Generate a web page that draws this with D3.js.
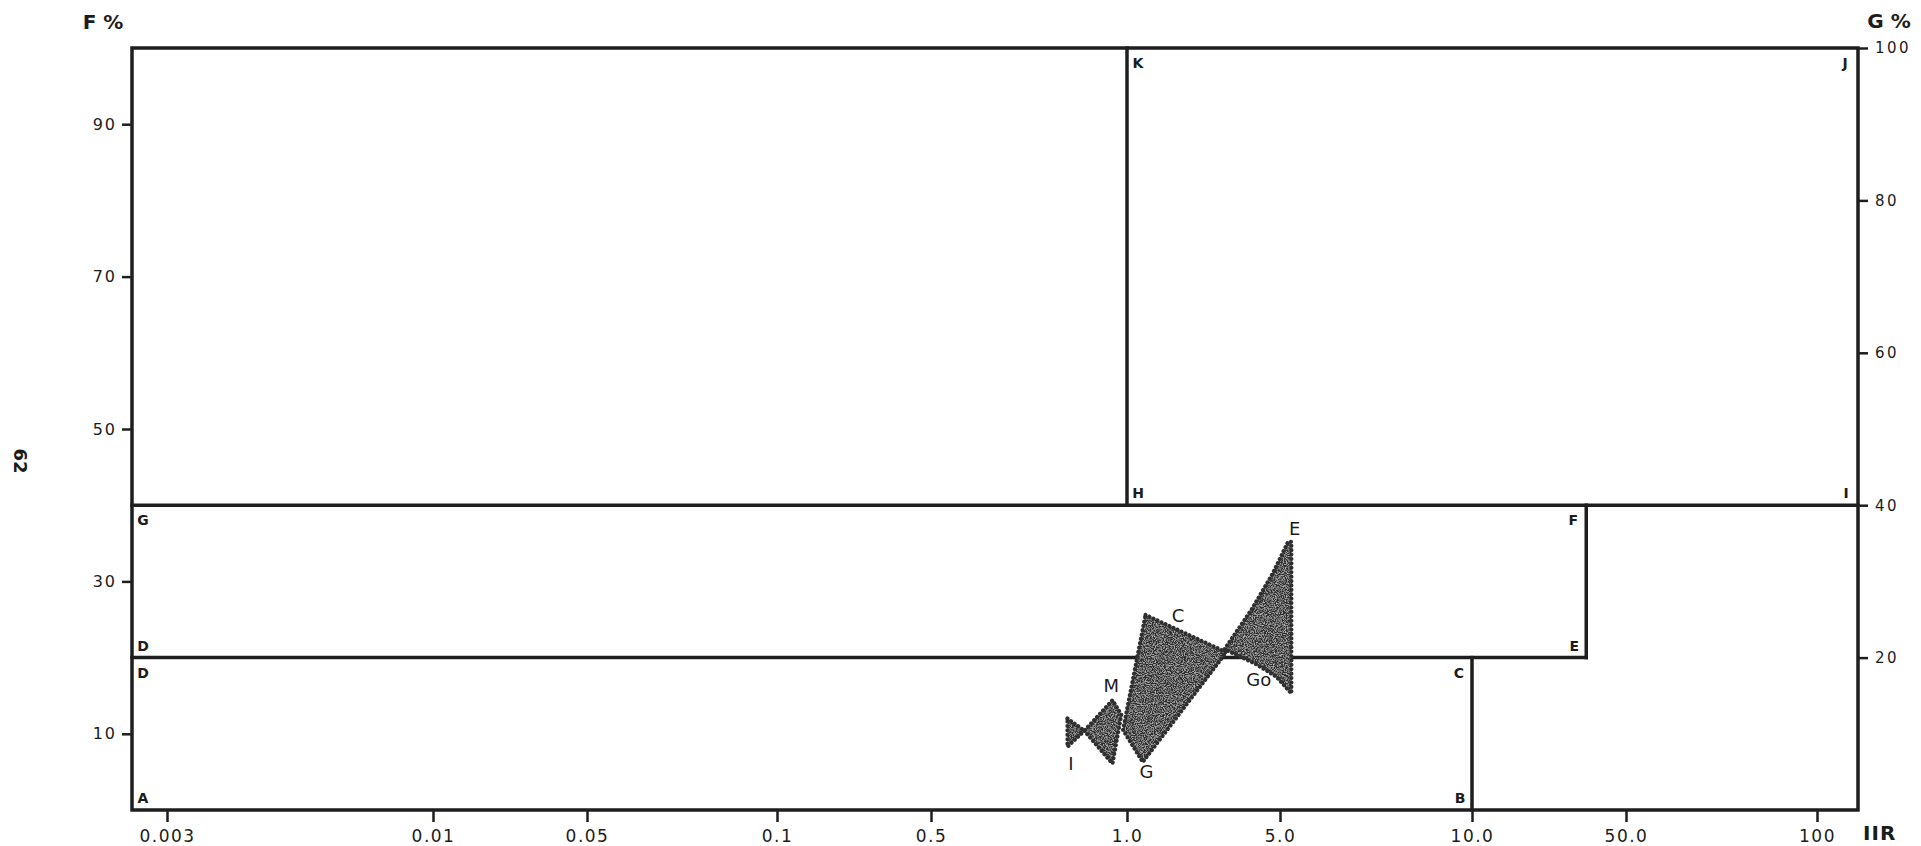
<!DOCTYPE html>
<html>
<head>
<meta charset="utf-8">
<script src="https://cdn.jsdelivr.net/npm/d3@7"></script>
<style>
  html, body { margin: 0; padding: 0; background: #fff; }
  svg { display: block; }
  text { font-family: "DejaVu Sans", "Noto Sans", sans-serif; fill: #1c1c1c; }
</style>
</head>
<body>
<svg id="chart" width="1921" height="846"></svg>
<script>
// ---- Abscissa (IIR): ruled values and their printed labels
const xTickValues = [0.003, 0.01, 0.05, 0.1, 0.5, 1, 5, 10, 50, 100];
const xTickLabels = ["0.003", "0.01", "0.05", "0.1", "0.5", "1.0", "5.0", "10.0", "50.0", "100"];

// ---- Ordinates: F % on the left, G % on the right
const fTickValues = [10, 30, 50, 70, 90];
const gTickValues = [20, 40, 60, 80, 100];

// ---- Field boundaries (null = frame edge)
const hBoundF     = [40, 20];
const hBoundXFrom = [null, null];
const hBoundXTo   = [null, 33];
const vBoundX     = [1, 33, 10];
const vBoundFFrom = [40, 20, 0];
const vBoundFTo   = [100, 40, 20];

// ---- Field corner letters: corner (x, F) and the side of the corner they sit on
const fieldLetters = ["K", "J", "H", "I", "G", "F", "E", "D", "D", "A", "C", "B"];
const fieldX       = [1, null, 1, null, null, 33, 33, null, null, null, 10, 10];
const fieldEdge    = ["", "right", "", "right", "left", "", "", "left", "left", "left", "", ""];
const fieldF       = [100, 100, 40, 40, 40, 40, 20, 20, 20, 0, 20, 0];
const fieldSide    = ["br", "bl", "tr", "tl", "br", "bl", "tl", "tr", "br", "tr", "bl", "tl"];

// ---- Rock ranges (IIR, F %)
const rangeIM  = [[0.81, 12.0], [0.86, 10.4], [0.95, 14.4], [0.98, 12.5], [0.95, 6.1], [0.86, 10.4], [0.81, 8.3]];
const rangeGC  = [[1.215, 25.6], [2.84, 20.7], [1.18, 6.3], [0.986, 10.5]];
const rangeGoE = [[2.79, 21.1], [3.70, 26.25], [4.64, 31.06], [5.15, 35.2], [5.21, 35.2], [5.21, 15.3], [4.81, 17.5], [3.83, 19.25]];

const rockLabels = ["I", "M", "G", "C", "Go", "E"];
const rockLabelX = [0.82, 0.946, 1.228, 1.71, 4.0, 5.27];
const rockLabelF = [6.1, 16.3, 5.0, 25.5, 17.1, 37.0];

// ---- Layout
const frameLeft = 132, frameRight = 1858;
// where each ruled abscissa value falls on the sheet
const xRulePx = [167, 433, 587, 777, 931, 1127, 1280, 1472, 1626, 1817];
const ink = "#1e1e1e";
const shade = "#2f2f2f";

const svg = d3.select("#chart");

const x  = d3.scaleLog().domain(xTickValues).range(xRulePx);
const yF = d3.scaleLinear().domain([0, 100]).range([810, 48]);
const yG = d3.scaleLinear().domain([0, 100]).range([810, 48]);

// grain for the shaded ranges
const defs = svg.append("defs");
const grain = defs.append("filter").attr("id", "grain")
  .attr("x", "-5%").attr("y", "-5%").attr("width", "110%").attr("height", "110%");
grain.append("feTurbulence").attr("type", "fractalNoise").attr("baseFrequency", 0.9)
  .attr("numOctaves", 2).attr("seed", 7).attr("result", "noise");
grain.append("feColorMatrix").attr("in", "noise").attr("type", "matrix")
  .attr("values", "0 0 0 0 1  0 0 0 0 1  0 0 0 0 1  1.3 0 0 0 -0.55").attr("result", "light");
grain.append("feComposite").attr("in", "light").attr("in2", "SourceGraphic")
  .attr("operator", "in").attr("result", "specks");
const merge = grain.append("feMerge");
merge.append("feMergeNode").attr("in", "SourceGraphic");
merge.append("feMergeNode").attr("in", "specks");

// ---- Axes
const axisX = d3.axisBottom(x)
  .tickValues(xTickValues)
  .tickFormat((d, i) => xTickLabels[i])
  .tickSize(12).tickPadding(8);
const gx = svg.append("g").attr("transform", `translate(0,${yF(0)})`).call(axisX);

const axisF = d3.axisLeft(yF).tickValues(fTickValues).tickSize(10).tickPadding(5);
const gf = svg.append("g").attr("transform", `translate(${frameLeft},0)`).call(axisF);

const axisG = d3.axisRight(yG).tickValues(gTickValues).tickSize(10).tickPadding(7);
const gg = svg.append("g").attr("transform", `translate(${frameRight},0)`).call(axisG);

[gx, gf, gg].forEach(g => {
  g.select(".domain").remove();
  g.selectAll(".tick line").attr("stroke", ink).attr("stroke-width", 2.5);
  g.selectAll(".tick text").attr("fill", ink).style("font-family", '"DejaVu Sans", sans-serif');
});
gx.selectAll(".tick text").style("font-size", "17px").style("letter-spacing", "1.5px");
gf.selectAll(".tick text").style("font-size", "16px").style("letter-spacing", "2px");
gg.selectAll(".tick text").style("font-size", "15px").style("letter-spacing", "2.5px");

// ---- Frame
const lines = svg.append("g").attr("stroke", ink).attr("stroke-width", 3.5)
  .attr("fill", "none").attr("stroke-linecap", "square");
lines.append("rect")
  .attr("x", frameLeft).attr("y", yF(100))
  .attr("width", frameRight - frameLeft).attr("height", yF(0) - yF(100));

// ---- Field boundaries
hBoundF.forEach((f, i) => {
  lines.append("line")
    .attr("x1", hBoundXFrom[i] === null ? frameLeft : x(hBoundXFrom[i]))
    .attr("x2", hBoundXTo[i] === null ? frameRight : x(hBoundXTo[i]))
    .attr("y1", yF(f)).attr("y2", yF(f));
});
vBoundX.forEach((v, i) => {
  lines.append("line")
    .attr("x1", x(v)).attr("x2", x(v))
    .attr("y1", yF(vBoundFFrom[i])).attr("y2", yF(vBoundFTo[i]));
});

// ---- Field corner letters
const sideDx = { br: 11, bl: -13, tr: 11, tl: -12 };
const sideDy = { br: 15, bl: 15, tr: -12, tl: -12 };
svg.append("g").selectAll("text").data(fieldLetters).join("text")
  .attr("x", (d, i) => {
    const cx = fieldX[i] !== null ? x(fieldX[i]) : (fieldEdge[i] === "left" ? frameLeft : frameRight);
    return cx + sideDx[fieldSide[i]];
  })
  .attr("y", (d, i) => yF(fieldF[i]) + sideDy[fieldSide[i]])
  .attr("text-anchor", "middle").attr("dominant-baseline", "central")
  .style("font-size", "14px").style("font-weight", "bold")
  .text(d => d);

// ---- Rock ranges
const area = d3.line().x(d => x(d[0])).y(d => yF(d[1])).curve(d3.curveLinearClosed);
const ranges = svg.append("g");
[rangeIM, rangeGC, rangeGoE].forEach(r => {
  ranges.append("path").attr("d", area(r))
    .attr("fill", shade).attr("filter", "url(#grain)");
  ranges.append("path").attr("d", area(r))
    .attr("fill", "none").attr("stroke", shade).attr("stroke-width", 4.2)
    .attr("stroke-linecap", "round").attr("stroke-linejoin", "round")
    .attr("stroke-dasharray", "0.01 4.4");
});

svg.append("g").selectAll("text").data(rockLabels).join("text")
  .attr("x", (d, i) => x(rockLabelX[i]))
  .attr("y", (d, i) => yF(rockLabelF[i]))
  .attr("text-anchor", "middle").attr("dominant-baseline", "central")
  .style("font-size", "18px")
  .text(d => d);

// ---- Axis headings
svg.append("text").attr("x", 103).attr("y", 29).attr("text-anchor", "middle")
  .style("font-size", "20px").style("font-weight", "bold").text("F %");
svg.append("text").attr("x", 1889).attr("y", 28).attr("text-anchor", "middle")
  .style("font-size", "20px").style("font-weight", "bold").text("G %");
svg.append("text").attr("x", 1863).attr("y", 840).attr("text-anchor", "start")
  .style("font-size", "20px").style("font-weight", "bold").style("letter-spacing", "1px").text("IIR");

// ---- Page number in the margin
svg.append("text").attr("transform", "translate(20,461) rotate(90)")
  .attr("text-anchor", "middle").attr("dominant-baseline", "central")
  .style("font-size", "18px").style("font-weight", "bold").text("62");
</script>
</body>
</html>
